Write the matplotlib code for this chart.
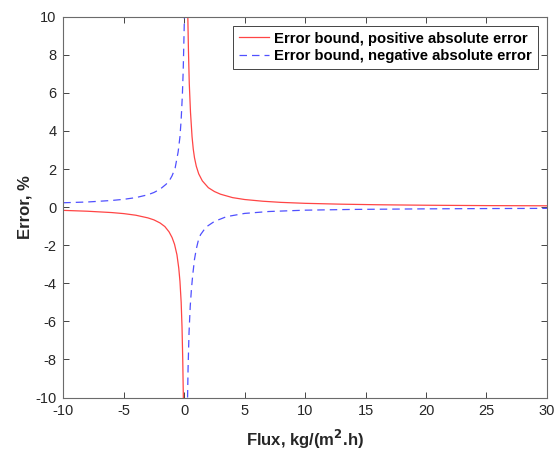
import numpy as np
import matplotlib
matplotlib.use('Agg')
import matplotlib.pyplot as plt

plt.rcParams['font.family'] = ['Liberation Sans', 'DejaVu Sans']
plt.rcParams['axes.unicode_minus'] = False

# positive absolute error bound (two branches)
pos_x_left = [-10, -8, -6, -5, -4, -3, -2.5, -2, -1.6, -1.25, -1.0, -0.8, -0.6, -0.45, -0.35, -0.25, -0.18, -0.12, -0.07]
pos_y_left = [-0.17, -0.215, -0.285, -0.34, -0.425, -0.565, -0.67, -0.83, -1.02, -1.3, -1.6, -1.95, -2.5, -3.2, -3.9, -5.0, -6.3, -8.0, -10]
pos_x_right = [0.3, 0.35, 0.42, 0.52, 0.65, 0.75, 0.85, 1.0, 1.2, 1.5, 2, 2.5, 3, 4, 5, 6.5, 8, 10, 13, 16, 20, 25, 30]
pos_y_right = [10, 8.3, 6.5, 5.0, 3.7, 3.05, 2.6, 2.15, 1.75, 1.38, 1.02, 0.82, 0.68, 0.5, 0.4, 0.31, 0.25, 0.2, 0.155, 0.125, 0.1, 0.08, 0.07]

# negative absolute error bound
neg_x_left = [-10, -8, -6, -5, -4, -3, -2.5, -2, -1.5, -1.2, -1.0, -0.75, -0.5, -0.35, -0.25, -0.15, -0.08, -0.03, 0.02]
neg_y_left = [0.23, 0.27, 0.35, 0.41, 0.5, 0.65, 0.77, 0.94, 1.2, 1.42, 1.65, 2.05, 2.9, 3.7, 4.6, 5.9, 7.2, 8.6, 10]
neg_x_right = [0.28, 0.32, 0.4, 0.5, 0.6, 0.7, 0.85, 1.0, 1.15, 1.35, 1.8, 2.5, 3.5, 5, 7, 10, 14, 20, 25, 30]
neg_y_right = [-10, -8.5, -6.6, -5.2, -4.3, -3.6, -2.75, -2.2, -1.8, -1.45, -1.05, -0.75, -0.5, -0.33, -0.23, -0.16, -0.12, -0.09, -0.075, -0.065]

xticks = np.arange(-10, 31, 5)
yticks = np.arange(-10, 11, 2)

fig = plt.figure(figsize=(5.55, 4.53), dpi=100)
ax = fig.add_axes([0.114, 0.1225, 0.8715, 0.8405])

# join the two branches with a NaN gap so each series is one line
px = pos_x_left + [np.nan] + pos_x_right
py = pos_y_left + [np.nan] + pos_y_right
nx = neg_x_left + [np.nan] + neg_x_right
ny = neg_y_left + [np.nan] + neg_y_right

ax.plot(px, py, color='#ff4545', lw=0.9, label='Error bound, positive absolute error')
ax.plot(nx, ny, color='#5050ff', lw=0.9, ls=(0, (6, 4)), label='Error bound, negative absolute error')

ax.set_xlim(-10, 30)
ax.set_ylim(-10, 10)
ax.set_xticks(xticks)
ax.set_yticks(yticks)
ax.tick_params(direction='in', length=4, width=0.6, colors='#262626', labelsize=10.5,
               top=True, right=True, pad=5)
for s in ax.spines.values():
    s.set_color('#6b6b6b')
    s.set_linewidth(0.8)

ax.set_xlabel('Flux, kg/(m$^\\mathbf{2}$.h)', fontsize=12, fontweight='bold', color='#262626', labelpad=7)
ax.set_ylabel('Error, %', fontsize=12, fontweight='bold', color='#262626', labelpad=2)

leg = ax.legend(loc='upper right', fancybox=False, framealpha=1, edgecolor='#262626',
                prop={'weight': 'bold', 'size': 10.7}, handlelength=2.0, handletextpad=0.35,
                borderpad=0.4, borderaxespad=0.6, labelspacing=0.25)
leg.get_frame().set_linewidth(0.6)

fig.savefig('out.png', dpi=100)
